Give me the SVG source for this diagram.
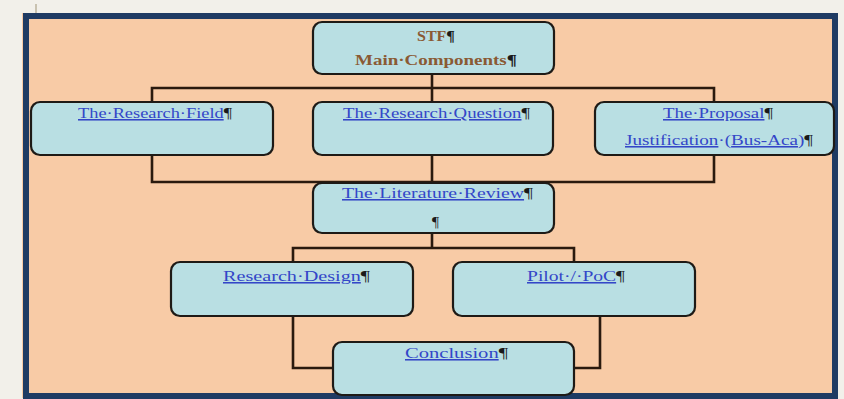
<svg xmlns="http://www.w3.org/2000/svg" width="844" height="399" viewBox="0 0 844 399">
<style>
.box{fill:#B9DFE3;stroke:#1E1A16;stroke-width:2.2}
.ln{fill:none;stroke:#2A1A0E;stroke-width:2.6}
.t{font-family:"Liberation Serif","Times New Roman",serif;font-size:15.5px;fill:#3346C8}
.u{text-decoration:underline}
.p{fill:#1a1a1a}
.d{fill:#7b86b8}
.h{font-family:"Liberation Serif","Times New Roman",serif;font-size:14px;font-weight:bold;fill:#8A5A34}
</style>
<rect x="0" y="0" width="844" height="399" fill="#F2F0EA"/>
<rect x="22" y="13" width="816" height="385" fill="#F8CBA6"/>
<rect x="26" y="16" width="809" height="380" fill="none" stroke="#1F3B63" stroke-width="6"/>
<line x1="36" y1="4" x2="36" y2="13" stroke="#C9C2B0" stroke-width="2"/>
<g id="connectors">
<path class="ln" d="M432 74 V88 M152 102 V88 H714 V102 M432 88 V102"/>
<path class="ln" d="M152 155 V182 H714 V155 M432 155 V183"/>
<path class="ln" d="M432 233 V248 M293 262 V248 H574 V262"/>
<path class="ln" d="M293 316 V368 H333 M600 316 V368 H574"/>
</g>
<g id="stf">
<rect class="box" x="313" y="22" width="241" height="52" rx="9"/>
<text class="h" x="417" y="41" textLength="38" lengthAdjust="spacingAndGlyphs">STF<tspan class="p">¶</tspan></text>
<text class="h" x="355" y="65" textLength="162" lengthAdjust="spacingAndGlyphs">Main·Components<tspan class="p">¶</tspan></text>
</g>
<g id="field">
<rect class="box" x="31" y="102" width="242" height="53" rx="9"/>
<text class="t" x="78" y="118" textLength="154" lengthAdjust="spacingAndGlyphs"><tspan class="u">The·Research·Field</tspan><tspan class="p">¶</tspan></text>
</g>
<g id="question">
<rect class="box" x="313" y="102" width="240" height="53" rx="9"/>
<text class="t" x="343" y="118" textLength="187" lengthAdjust="spacingAndGlyphs"><tspan class="u">The·Research·Question</tspan><tspan class="p">¶</tspan></text>
</g>
<g id="proposal">
<rect class="box" x="595" y="102" width="239" height="53" rx="9"/>
<text class="t" x="663" y="118" textLength="110" lengthAdjust="spacingAndGlyphs"><tspan class="u">The·Proposal</tspan><tspan class="p">¶</tspan></text>
<text class="t" x="625" y="145" textLength="188" lengthAdjust="spacingAndGlyphs"><tspan class="u">Justification</tspan>·(<tspan class="u">Bus-Aca</tspan>)<tspan class="p">¶</tspan></text>
</g>
<g id="literature">
<rect class="box" x="313" y="183" width="241" height="50" rx="9"/>
<text class="t" x="342" y="198" textLength="191" lengthAdjust="spacingAndGlyphs"><tspan class="u">The·Literature·Review</tspan><tspan class="p">¶</tspan></text>
<text class="t p" x="432" y="227">¶</text>
</g>
<g id="design">
<rect class="box" x="171" y="262" width="242" height="54" rx="9"/>
<text class="t" x="223" y="281" textLength="147" lengthAdjust="spacingAndGlyphs"><tspan class="u">Research·Design</tspan><tspan class="p">¶</tspan></text>
</g>
<g id="pilot">
<rect class="box" x="453" y="262" width="242" height="54" rx="9"/>
<text class="t" x="527" y="281" textLength="98" lengthAdjust="spacingAndGlyphs"><tspan class="u">Pilot·/·PoC</tspan><tspan class="p">¶</tspan></text>
</g>
<g id="conclusion">
<rect class="box" x="333" y="342" width="241" height="53" rx="9"/>
<text class="t" x="405" y="358" textLength="103" lengthAdjust="spacingAndGlyphs"><tspan class="u">Conclusion</tspan><tspan class="p">¶</tspan></text>
</g>
</svg>
